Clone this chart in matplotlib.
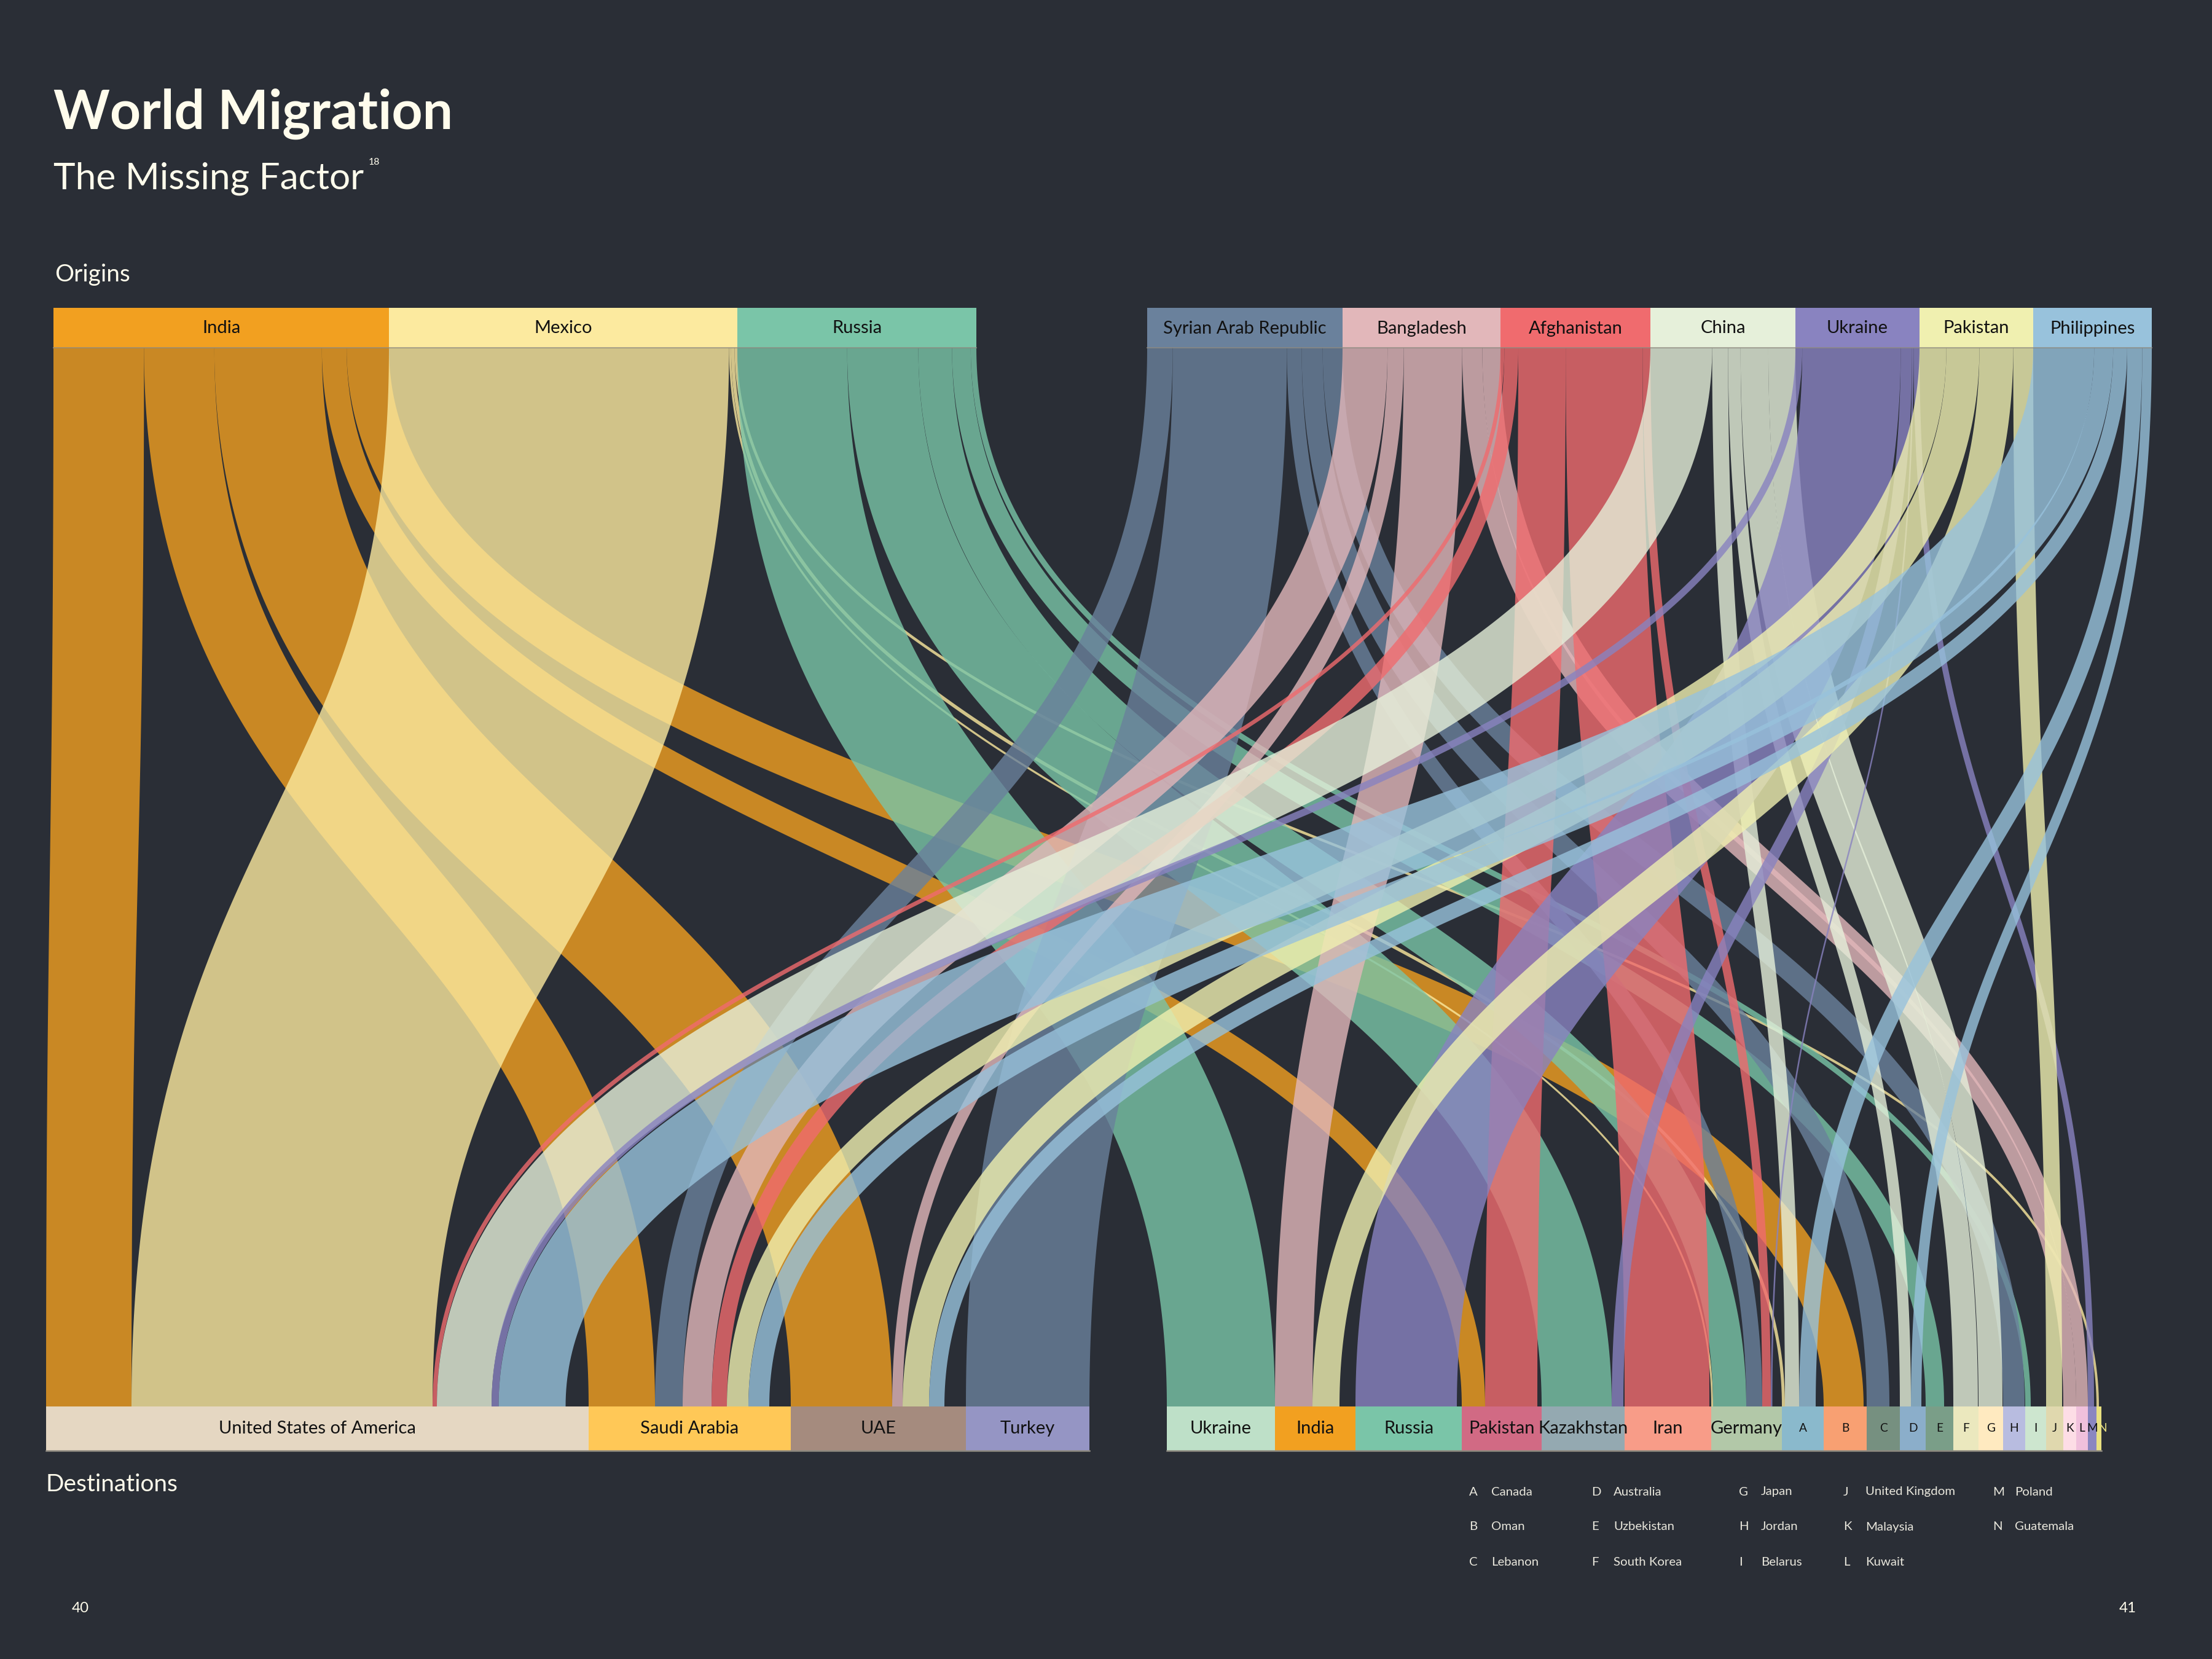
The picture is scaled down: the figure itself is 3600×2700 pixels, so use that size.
import numpy as np
import matplotlib.pyplot as plt
from matplotlib.patches import Rectangle, Polygon

plt.rcParams['font.family'] = ['Lato', 'DejaVu Sans']

BG = '#2a2e36'
INK = '#fffcec'

origins = ['India', 'Mexico', 'Russia', 'Syrian Arab Republic', 'Bangladesh',
           'Afghanistan', 'China', 'Ukraine', 'Pakistan', 'Philippines']
origin_size = [10.92, 11.34, 7.78, 6.36, 5.14, 4.88, 4.72, 4.04, 3.70, 3.86]
origin_colors = ['#f2a020', '#fcea9f', '#7ac5a8', '#6a819c', '#e2b7ba',
                 '#f06b6e', '#e6f0da', '#8983c0', '#f0f0b0', '#98c2dc']

destinations = ['United States of America', 'Saudi Arabia', 'UAE', 'Turkey',
                'Ukraine', 'India', 'Russia', 'Pakistan', 'Kazakhstan', 'Iran',
                'Germany', 'Canada', 'Oman', 'Lebanon', 'Australia', 'Uzbekistan',
                'South Korea', 'Japan', 'Jordan', 'Belarus', 'United Kingdom',
                'Malaysia', 'Kuwait', 'Poland', 'Guatemala']
dest_labels = ['United States of America', 'Saudi Arabia', 'UAE', 'Turkey',
               'Ukraine', 'India', 'Russia', 'Pakistan', 'Kazakhstan', 'Iran',
               'Germany', 'A', 'B', 'C', 'D', 'E', 'F', 'G', 'H', 'I', 'J',
               'K', 'L', 'M', 'N']
dest_size = [17.66, 6.58, 5.70, 4.02, 3.52, 2.62, 3.46, 2.60, 2.70, 2.82, 2.30,
             1.36, 1.40, 1.08, 0.84, 0.90, 0.82, 0.80, 0.72, 0.68, 0.56, 0.42,
             0.38, 0.28, 0.16]
dest_colors = ['#e5d7c2', '#ffc857', '#a58b7e', '#9595c4', '#bee0c8', '#f2a020',
               '#7ac5a8', '#d16a84', '#94a9b1', '#f89c88', '#b2c8a8', '#8ab9cc',
               '#f8a072', '#769080', '#8baeca', '#7a9e88', '#ebe8be', '#ffeac0',
               '#b8bce0', '#cde6cf', '#e0d8ae', '#fddde6', '#f0c0dc', '#8a86c0',
               '#e8e080']

flow_from = ['India', 'India', 'India', 'India', 'India',
             'Mexico', 'Mexico', 'Mexico', 'Mexico',
             'Russia', 'Russia', 'Russia', 'Russia', 'Russia',
             'Syrian Arab Republic', 'Syrian Arab Republic', 'Syrian Arab Republic',
             'Syrian Arab Republic', 'Syrian Arab Republic',
             'Bangladesh', 'Bangladesh', 'Bangladesh', 'Bangladesh', 'Bangladesh',
             'Afghanistan', 'Afghanistan', 'Afghanistan', 'Afghanistan', 'Afghanistan',
             'China', 'China', 'China', 'China', 'China',
             'Ukraine', 'Ukraine', 'Ukraine', 'Ukraine', 'Ukraine',
             'Pakistan', 'Pakistan', 'Pakistan', 'Pakistan',
             'Philippines', 'Philippines', 'Philippines', 'Philippines', 'Philippines']
flow_to = ['United States of America', 'Saudi Arabia', 'UAE', 'Pakistan', 'Oman',
           'United States of America', 'Germany', 'Canada', 'Guatemala',
           'Ukraine', 'Kazakhstan', 'Germany', 'Uzbekistan', 'Belarus',
           'Saudi Arabia', 'Turkey', 'Germany', 'Lebanon', 'Jordan',
           'Saudi Arabia', 'UAE', 'India', 'Malaysia', 'Kuwait',
           'United States of America', 'Saudi Arabia', 'Pakistan', 'Iran', 'Germany',
           'United States of America', 'Canada', 'Australia', 'South Korea', 'Japan',
           'United States of America', 'Russia', 'Kazakhstan', 'Germany', 'Poland',
           'Saudi Arabia', 'UAE', 'India', 'United Kingdom',
           'United States of America', 'Saudi Arabia', 'UAE', 'Canada', 'Australia']
flow_value = [2.78, 2.16, 3.30, 0.76, 1.30,
              9.80, 0.06, 0.10, 0.08,
              3.52, 2.28, 1.08, 0.60, 0.18,
              0.90, 4.02, 0.52, 0.74, 0.70,
              0.94, 0.34, 1.22, 0.42, 0.38,
              0.14, 0.50, 1.70, 2.76, 0.28,
              1.78, 0.46, 0.36, 0.80, 0.78,
              0.23, 3.30, 0.38, 0.05, 0.20,
              0.70, 0.86, 0.88, 0.52,
              2.18, 0.68, 0.50, 0.54, 0.34]

legend_cols_x = [2391, 2590, 2830, 3000, 3243]

# ---- layout ----
SCALE = 50.0          # px per million
ORIG_Y0, ORIG_Y1 = 501, 566
DEST_Y0, DEST_Y1 = 2289, 2361
ORIG_GROUP_X = [87, 1867]
DEST_GROUP_X = [75, 1899]
N_LEFT_ORIG, N_LEFT_DEST = 3, 4


def node_x(sizes, group_x, n_left):
    xs = []
    x = group_x[0]
    for i, s in enumerate(sizes):
        if i == n_left:
            x = group_x[1]
        xs.append(x)
        x += s * SCALE
    return xs


ox = node_x(origin_size, ORIG_GROUP_X, N_LEFT_ORIG)
dx = node_x(dest_size, DEST_GROUP_X, N_LEFT_DEST)

oi = [origins.index(s) for s in flow_from]
di = [destinations.index(d) for d in flow_to]
nf = len(flow_value)

# top positions: fill each origin bar, ordered by destination
top_x = [0.0] * nf
top_w = [0.0] * nf
for o in range(len(origins)):
    idx = sorted([k for k in range(nf) if oi[k] == o], key=lambda k: di[k])
    tot = sum(flow_value[k] for k in idx)
    f = origin_size[o] / tot
    x = ox[o]
    for k in idx:
        w = flow_value[k] * SCALE * f
        top_x[k] = x + w / 2
        top_w[k] = w
        x += w

# bottom positions: stacked from the left of each destination bar
bot_x = [0.0] * nf
bot_w = [0.0] * nf
for d in range(len(destinations)):
    idx = sorted([k for k in range(nf) if di[k] == d], key=lambda k: oi[k])
    x = dx[d]
    for k in idx:
        w = flow_value[k] * SCALE
        bot_x[k] = x + w / 2
        bot_w[k] = w
        x += w


def ribbon(ax, xa, wa, xb, wb, color):
    t = np.linspace(0, 1, 240)
    y0, y1 = ORIG_Y1, DEST_Y0
    ym = (y0 + y1) / 2
    bx = (1 - t) ** 3 * xa + 3 * (1 - t) ** 2 * t * xa + 3 * (1 - t) * t ** 2 * xb + t ** 3 * xb
    by = (1 - t) ** 3 * y0 + 3 * (1 - t) ** 2 * t * ym + 3 * (1 - t) * t ** 2 * ym + t ** 3 * y1
    ddx = 6 * (1 - t) * t * (xb - xa)
    ddy = 3 * (1 - t) ** 2 * (ym - y0) + 3 * t ** 2 * (y1 - ym)
    L = np.hypot(ddx, ddy)
    nx, ny = ddy / L, -ddx / L
    w = wa + (wb - wa) * (3 * t ** 2 - 2 * t ** 3)
    e1 = np.column_stack([bx + nx * w / 2, by + ny * w / 2])
    e2 = np.column_stack([bx - nx * w / 2, by - ny * w / 2])
    poly = Polygon(np.vstack([e1, e2[::-1]]), closed=True, facecolor=color,
                   edgecolor='none', alpha=0.8, zorder=2)
    ax.add_patch(poly)


fig = plt.figure(figsize=(12, 9), dpi=300, facecolor=BG)
ax = fig.add_axes([0, 0, 1, 1])
ax.set_facecolor(BG)
ax.set_xlim(0, 3600)
ax.set_ylim(2700, 0)
ax.axis('off')

for k in range(nf):
    ribbon(ax, top_x[k], top_w[k], bot_x[k], bot_w[k], origin_colors[oi[k]])

# origin bars
for i, name in enumerate(origins):
    w = origin_size[i] * SCALE
    ax.add_patch(Rectangle((ox[i], ORIG_Y0), w, ORIG_Y1 - ORIG_Y0,
                           facecolor=origin_colors[i], edgecolor='none', zorder=3))
    ax.text(ox[i] + w / 2, (ORIG_Y0 + ORIG_Y1) / 2 + 1, name, ha='center', va='center',
            fontsize=7.0, color='#111111', zorder=4)
for g0, g1 in [(0, N_LEFT_ORIG), (N_LEFT_ORIG, len(origins))]:
    ax.plot([ox[g0], ox[g1 - 1] + origin_size[g1 - 1] * SCALE], [ORIG_Y1, ORIG_Y1],
            color='#8e8a80', lw=0.5, alpha=0.7, zorder=4)

# destination bars
for i, lab in enumerate(dest_labels):
    w = dest_size[i] * SCALE
    ax.add_patch(Rectangle((dx[i], DEST_Y0), w, DEST_Y1 - DEST_Y0,
                           facecolor=dest_colors[i], edgecolor='none', zorder=3))
    small = len(lab) == 1
    col = dest_colors[i] if w < 12 else '#111111'
    ax.text(dx[i] + w / 2 + (6 if w < 12 else 0), (DEST_Y0 + DEST_Y1) / 2,
            lab, ha='center', va='center', fontsize=4.6 if small else 7.0,
            color=col, zorder=4)
for g0, g1 in [(0, N_LEFT_DEST), (N_LEFT_DEST, len(destinations))]:
    ax.plot([dx[g0], dx[g1 - 1] + dest_size[g1 - 1] * SCALE], [DEST_Y1, DEST_Y1],
            color='#8e8a80', lw=0.6, zorder=4)

# titles
ax.text(87, 210, 'World Migration', fontsize=21, fontweight='bold', color=INK,
        ha='left', va='baseline')
ax.text(87, 308, 'The Missing Factor', fontsize=14.5, color=INK, ha='left', va='baseline')
ax.text(600, 268, '18', fontsize=3.8, color=INK, ha='left', va='baseline')
ax.text(89, 458, 'Origins', fontsize=9.3, color=INK, ha='left', va='baseline')
ax.text(75, 2427, 'Destinations', fontsize=9.3, color=INK, ha='left', va='baseline')
ax.text(131, 2617, '40', fontsize=5.8, color=INK, ha='center', va='center')
ax.text(3463, 2617, '41', fontsize=5.8, color=INK, ha='center', va='center')

# key for the lettered destinations
keyed = [(lab, destinations[i]) for i, lab in enumerate(dest_labels) if len(lab) == 1]
rows_y = [2428, 2485, 2542]
for n, (lab, name) in enumerate(keyed):
    cx = legend_cols_x[n // 3]
    cy = rows_y[n % 3]
    ax.text(cx, cy, lab, fontsize=4.9, color='#e8e6dc', ha='left', va='center')
    ax.text(cx + 36, cy, name, fontsize=4.9, color='#e8e6dc', ha='left', va='center')

fig.savefig('out.png', dpi=300, facecolor=BG)
